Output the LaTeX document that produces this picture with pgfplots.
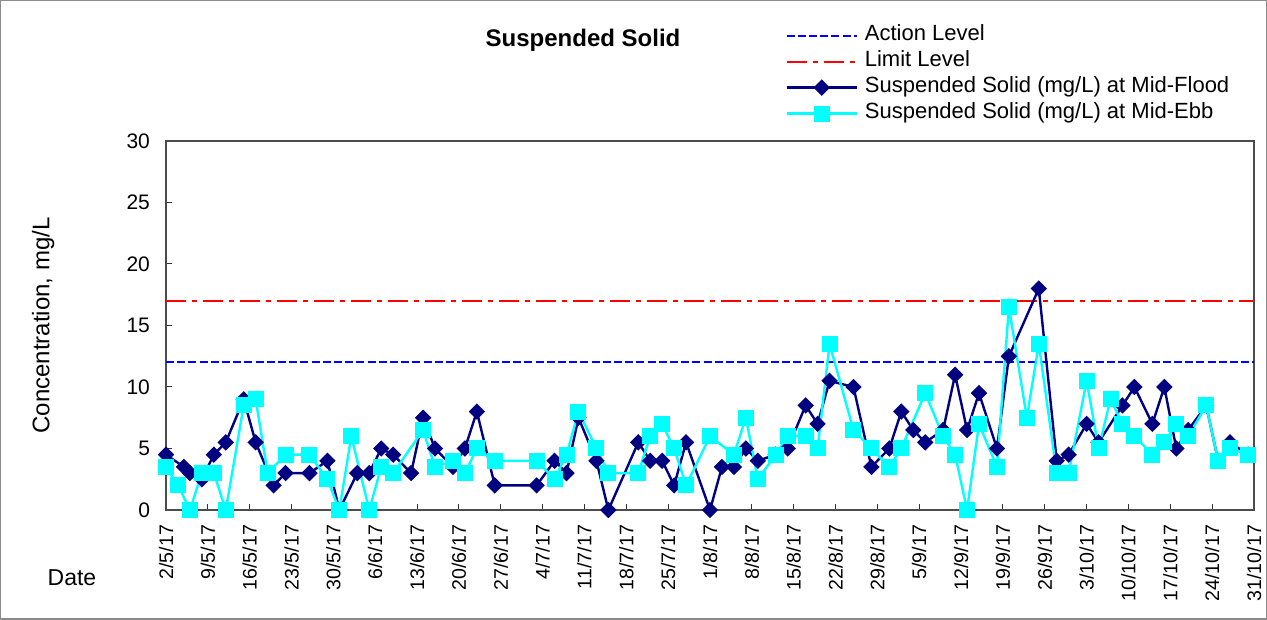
\documentclass[border=0pt]{standalone}
\usepackage{fontspec}
\setmainfont{Liberation Sans}
\usepackage{pgfplots}
\pgfplotsset{compat=1.18}
\definecolor{navyc}{RGB}{0,0,128}
\definecolor{cyanc}{RGB}{0,255,255}
\definecolor{actblue}{RGB}{0,0,255}
\definecolor{limred}{RGB}{255,0,0}
\begin{document}
\begin{tikzpicture}[x=1pt,y=1pt]
\useasboundingbox (-83,-55) rectangle (550.5,255);
\draw[black!45, line width=0.7pt] (-82.6,-54.6) rectangle (550.1,254.6);
\begin{axis}[
  at={(0,0)}, anchor=south west, scale only axis,
  width=544pt, height=184.5pt,
  xmin=0, xmax=182, ymin=0, ymax=30,
  xtick={0,7,...,182},
  xticklabels={2/5/17,9/5/17,16/5/17,23/5/17,30/5/17,6/6/17,13/6/17,20/6/17,27/6/17,4/7/17,11/7/17,18/7/17,25/7/17,1/8/17,8/8/17,15/8/17,22/8/17,29/8/17,5/9/17,12/9/17,19/9/17,26/9/17,3/10/17,10/10/17,17/10/17,24/10/17,31/10/17},
  ytick={0,5,...,30},
  xtick pos=bottom, ytick pos=left,
  major tick length=3pt,
  tick style={black!80, line width=0.5pt},
  axis line style={black!70, line width=0.7pt},
  /pgf/number format/assume math mode=true,
  xticklabel style={rotate=90, anchor=east, font=\fontsize{9.8}{11}\selectfont, xshift=-4pt, yshift=0pt},
  yticklabel style={font=\fontsize{10.5}{12}\selectfont, xshift=-4.5pt},
  ylabel={Concentration, mg/L},
  ylabel style={at={(axis description cs:-0.113,0.5)}, anchor=center, font=\fontsize{12}{14}\selectfont},
  xlabel={Date},
  xlabel style={at={(axis description cs:-0.0864,-0.184)}, anchor=center, font=\fontsize{11.5}{13}\selectfont},
  legend style={at={(rel axis cs:0.569,1.32)}, anchor=north west, draw=none, fill=none,
    inner sep=0pt, font=\fontsize{11}{13}\selectfont,
    nodes={inner sep=1pt, text height=7.8pt, text depth=2.5pt},
    row sep=0.7pt, column sep=2.5pt},
  legend cell align=left,
  legend image code/.code={\draw[mark repeat=2,mark phase=2,#1] plot coordinates {(0pt,0pt) (17.5pt,0pt) (35pt,0pt)};},
  clip=false,
]
\addplot[actblue, line width=1pt, dash pattern=on 4pt off 1.6pt] coordinates {(0,12) (182,12)};
\addlegendentry{Action Level}
\addplot[limred, line width=1pt, dash pattern=on 10pt off 3pt on 2.5pt off 3pt] coordinates {(0,17) (182,17)};
\addlegendentry{Limit Level}
\addplot[navyc, line width=1.2pt, mark=square*, mark size=2.3pt, mark options={rotate=45, solid, fill=navyc}] coordinates {
(0,4.5) (3,3.5) (4,3.0) (6,2.5) (8,4.5) (10,5.5) (13,9.0) (15,5.5) (18,2.0) (20,3.0)
(24,3.0) (27,4.0) (29,0) (32,3.0) (34,3.0) (36,5.0) (38,4.5) (41,3.0) (43,7.5) (45,5.0)
(48,3.5) (50,5.0) (52,8.0) (55,2.0) (62,2.0) (65,4.0) (67,3.0) (69,7.5) (72,4.0) (74,0)
(79,5.5) (81,4.0) (83,4.0) (85,2.0) (87,5.5) (91,0) (93,3.5) (95,3.5) (97,5.0) (99,4.0)
(102,4.5) (104,5.0) (107,8.5) (109,7.0) (111,10.5) (115,10.0) (118,3.5) (121,5.0) (123,8.0) (125,6.5)
(127,5.5) (130,6.5) (132,11.0) (134,6.5) (136,9.5) (139,5.0) (141,12.5) (146,18.0) (149,4.0) (151,4.5)
(154,7.0) (156,5.5) (160,8.5) (162,10.0) (165,7.0) (167,10.0) (169,5.0) (171,6.5) (174,8.5) (176,4.0)
(178,5.5) (181,4.5)};
\addlegendentry{Suspended Solid (mg/L) at Mid-Flood}
\addplot[cyanc, line width=1.2pt, mark=square*, mark size=3.4pt, mark options={solid, fill=cyanc}] coordinates {
(0,3.5) (2,2.0) (4,0) (6,3.0) (8,3.0) (10,0) (13,8.5) (15,9.0) (17,3.0) (20,4.5)
(24,4.5) (27,2.5) (29,0) (31,6.0) (34,0) (36,3.5) (38,3.0) (43,6.5) (45,3.5) (48,4.0)
(50,3.0) (52,5.0) (55,4.0) (62,4.0) (65,2.5) (67,4.5) (69,8.0) (72,5.0) (74,3.0) (79,3.0)
(81,6.0) (83,7.0) (85,5.0) (87,2.0) (91,6.0) (95,4.5) (97,7.5) (99,2.5) (102,4.5) (104,6.0)
(107,6.0) (109,5.0) (111,13.5) (115,6.5) (118,5.0) (121,3.5) (123,5.0) (127,9.5) (130,6.0) (132,4.5)
(134,0) (136,7.0) (139,3.5) (141,16.5) (144,7.5) (146,13.5) (149,3.0) (151,3.0) (154,10.5) (156,5.0)
(158,9.0) (160,7.0) (162,6.0) (165,4.5) (167,5.5) (169,7.0) (171,6.0) (174,8.5) (176,4.0) (178,5.0)
(181,4.5)};
\addlegendentry{Suspended Solid (mg/L) at Mid-Ebb}
\end{axis}
\node[font=\bfseries\fontsize{12}{14}\selectfont] at (208.5,235) {Suspended Solid};
\end{tikzpicture}
\end{document}
